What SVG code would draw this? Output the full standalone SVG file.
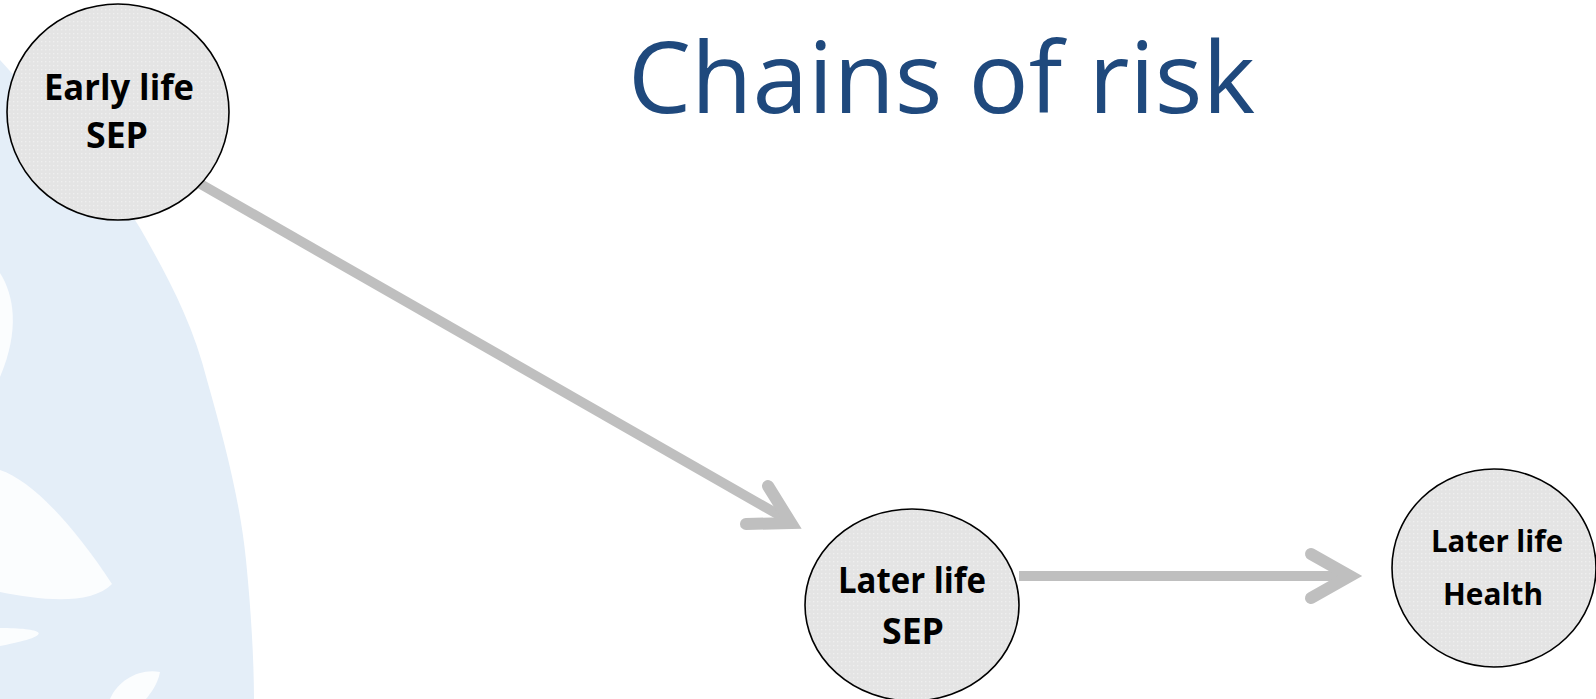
<svg xmlns="http://www.w3.org/2000/svg" width="1596" height="699" viewBox="0 0 1596 699">
  <defs>
    <pattern id="dots" width="4" height="4" patternUnits="userSpaceOnUse">
      <rect width="4" height="4" fill="#e4e4e4"/>
      <rect x="1" y="1" width="1.4" height="1.4" fill="#efefef"/>
    </pattern>
    <style>
      .node ellipse { fill: url(#dots); stroke: #000; stroke-width: 1.6; }
      .label { font-family: "Open Sans", "Liberation Sans", sans-serif; font-weight: bold; font-size: 35px; fill: #000; text-anchor: middle; }
      .label.small { font-size: 31px; }
      .shaft { stroke: #bfbfbf; stroke-width: 10; fill: none; }
      .head { stroke: #bfbfbf; stroke-width: 12; fill: none; stroke-linecap: round; stroke-linejoin: miter; }
      .title { font-family: "Open Sans", "Liberation Sans", sans-serif; font-size: 98px; fill: #1f497d; }
      .mark { fill: #e4eef8; }
      .mark-cut { fill: #ffffff; opacity: 0.85; }
    </style>
  </defs>

  <rect width="1596" height="699" fill="#ffffff"/>

  <!-- faint watermark emblem on the left edge -->
  <g id="watermark">
    <path class="mark" d="M0,60 C45,110 105,170 140,228 C165,272 192,320 207,380 C224,440 240,500 246,560 C251,610 254,660 254,699 L0,699 Z"/>
    <path class="mark-cut" d="M0,273 C14,295 20,330 0,377 Z"/>
    <path class="mark-cut" d="M0,470 C30,480 70,520 112,584 C90,606 40,600 0,592 Z"/>
    <path class="mark-cut" d="M0,628 C40,628 62,634 0,646 Z"/>
    <path class="mark-cut" d="M110,699 C118,680 140,668 160,672 C158,684 150,694 146,699 Z"/>
  </g>

  <text class="title" x="628" y="113" textLength="627" lengthAdjust="spacingAndGlyphs">Chains of risk</text>

  <!-- connectors -->
  <g id="connectors">
    <line class="shaft" x1="197" y1="182" x2="786" y2="519"/>
    <polyline class="head" points="768,486 791,523 746,524"/>
    <line class="shaft" x1="1019" y1="576" x2="1346" y2="576"/>
    <polyline class="head" points="1311,554 1350,576 1311,598"/>
  </g>

  <g id="node-early-sep" class="node">
    <ellipse cx="118" cy="112" rx="111" ry="108"/>
    <text class="label" x="119" y="100" textLength="150" lengthAdjust="spacingAndGlyphs">Early life</text>
    <text class="label" x="117" y="148" textLength="62" lengthAdjust="spacingAndGlyphs">SEP</text>
  </g>

  <g id="node-later-sep" class="node">
    <ellipse cx="912" cy="605" rx="107" ry="96"/>
    <text class="label" x="912" y="593" textLength="148" lengthAdjust="spacingAndGlyphs">Later life</text>
    <text class="label" x="913" y="644" textLength="62" lengthAdjust="spacingAndGlyphs">SEP</text>
  </g>

  <g id="node-later-health" class="node">
    <ellipse cx="1494" cy="568" rx="102" ry="99"/>
    <text class="label small" x="1497" y="552" textLength="132" lengthAdjust="spacingAndGlyphs">Later life</text>
    <text class="label small" x="1493" y="605" textLength="100" lengthAdjust="spacingAndGlyphs">Health</text>
  </g>
</svg>
